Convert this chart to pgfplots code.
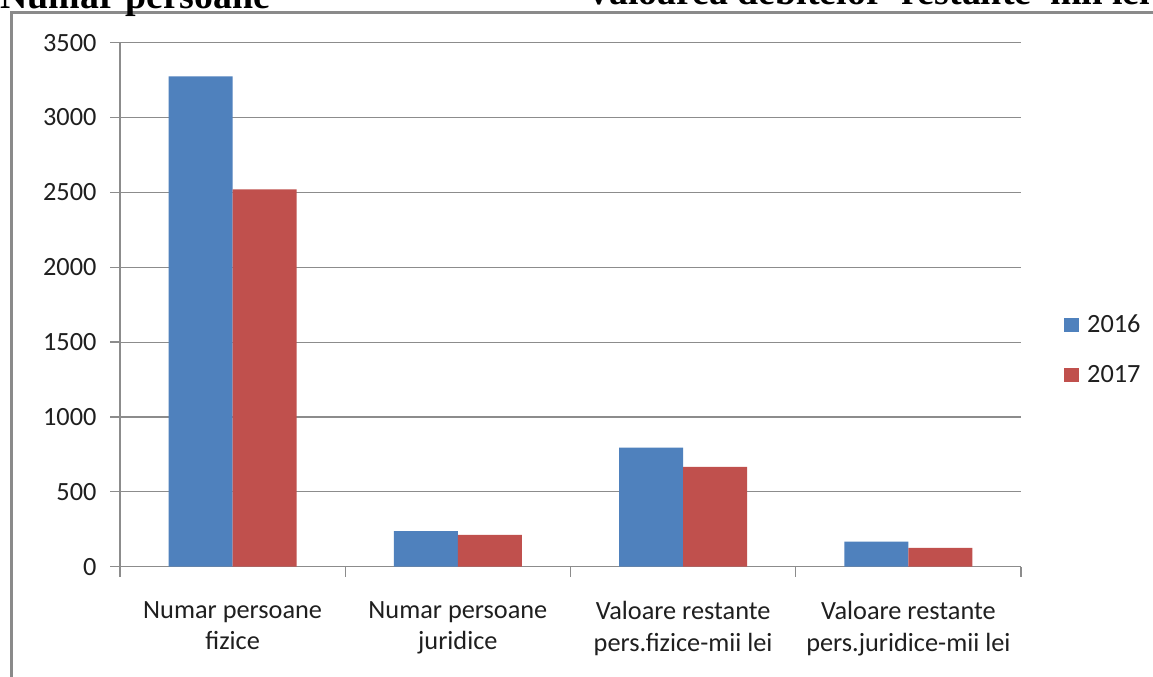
\documentclass[border=0pt]{standalone}
\usepackage{pgfplots}
\pgfplotsset{compat=1.18}
\usepackage{fontspec}
\setmainfont{Carlito}
\newfontfamily\titlefont{Liberation Serif}
\definecolor{barblue}{HTML}{4F81BD}
\definecolor{barred}{HTML}{C0504D}
\definecolor{gridgray}{HTML}{8C8C8C}
\definecolor{framegray}{HTML}{8A8A8A}
\begin{document}
\begin{tikzpicture}[x=1bp,y=1bp]
\useasboundingbox (0,0) rectangle (1153,677);
\clip (0,0) rectangle (1153,677);
\fill[white] (0,0) rectangle (1153,677);
% frame
\draw[framegray, line width=2.2bp] (11.5,-20) -- (11.5,664.5) -- (1170,664.5);
% titles (cut off at top as in the reference)
\node[anchor=base west, inner sep=0pt, font=\titlefont\bfseries\fontsize{38}{40}\selectfont] at (0,668.5) {Numar persoane};
\node[anchor=base west, inner sep=0pt, font=\titlefont\bfseries\fontsize{38}{40}\selectfont] at (585,672) {Valoarea debitelor\ \ restante\ \ mii lei};
\begin{axis}[
  at={(120bp,110.3bp)}, anchor=south west,
  scale only axis, width=901bp, height=524bp,
  xmin=0.5, xmax=4.5, ymin=0, ymax=3500,
  axis x line*=bottom, axis y line*=left,
  axis line style={draw=gridgray, line width=1.3bp},
  ytick={0,500,...,3500},
  ymajorgrids, grid style={draw=gridgray, line width=1.1bp},
  tick style={draw=gridgray, line width=1.3bp},
  tick align=outside, major tick length=10bp,
  xtick={0.5,1.5,2.5,3.5,4.5}, xticklabels={,,,,,},
  extra x ticks={1,2,3,4},
  extra x tick labels={{Numar persoane\\fizice},{Numar persoane\\juridice},{Valoare restante\\pers.fizice-mii lei},{Valoare restante\\pers.juridice-mii lei}},
  extra x tick style={major tick length=0bp, grid=none, tick label style={align=center, yshift=-31bp}},
  tick label style={font=\fontsize{26.4}{32}\selectfont, text=black!88},
  yticklabel style={xshift=-10bp},
  /pgf/number format/assume math mode=true,
  /pgf/number format/set thousands separator={},
  ybar=0bp, bar width=64bp,
  legend style={at={(1.0477,0.4145)}, anchor=west, draw=none, fill=none, inner sep=0pt,
    font=\fontsize{26.4}{32}\selectfont, text=black!88, row sep=31bp,
    /tikz/every even column/.append style={column sep=0bp}},
  legend image code/.code={\path[#1,draw=none] (0bp,-7bp) rectangle (15bp,7bp);},
  legend cell align=left,
  legend style={nodes={inner sep=0pt}},
  /tikz/every odd column/.append style={column sep=8bp},
]
\addplot[fill=barblue, draw=none] coordinates {(1,3275) (2,238) (3,795) (4,167)};
\addlegendentry{2016}
\addplot[fill=barred, draw=none] coordinates {(1,2520) (2,212) (3,666) (4,125)};
\addlegendentry{2017}
\end{axis}
\end{tikzpicture}
\end{document}
